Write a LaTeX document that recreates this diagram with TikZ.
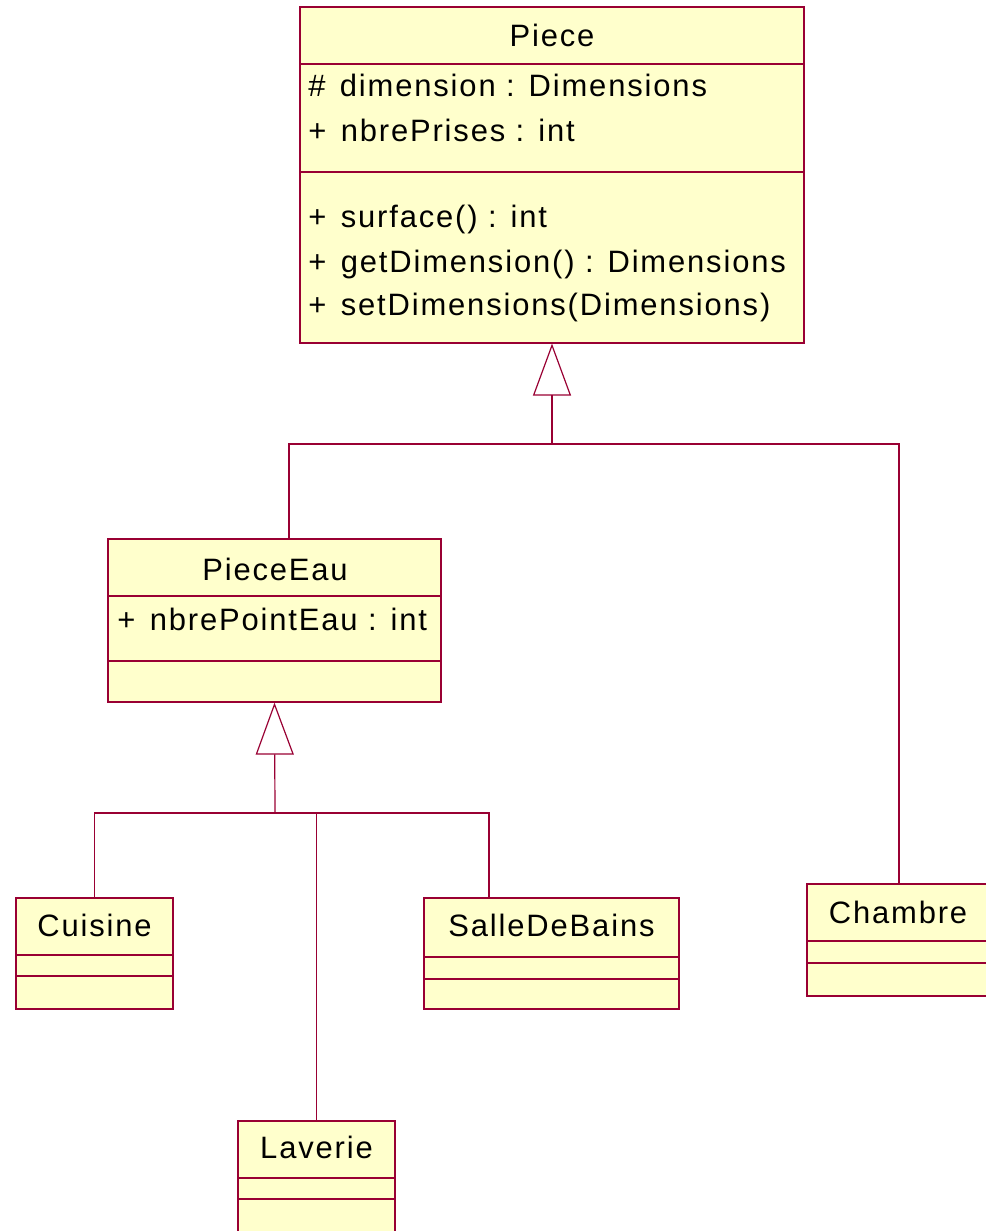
\documentclass[tikz,border=0pt]{standalone}
\usepackage{fontspec}
\setmainfont{Liberation Sans}[LetterSpace=6]
\usepackage{tikz}
\usepackage{xcolor}
\usetikzlibrary{shapes,arrows.meta,positioning,fit}

\definecolor{umlred}{RGB}{153,0,51}
\definecolor{umlfill}{RGB}{255,255,204}

\newcommand{\vis}[1]{#1\kern3pt\ }

\tikzset{
  umlline/.style={draw=umlred,line width=0.9pt},
  classbox/.style={umlline,fill=umlfill,inner sep=0pt},
  gen/.style={umlline,-{Triangle[open,length=39pt,width=28.5pt]}},
  member/.style={anchor=base west,inner sep=0pt,font=\fontsize{23.2pt}{27pt}\selectfont},
  cname/.style={anchor=base,inner sep=0pt,font=\fontsize{23.2pt}{27pt}\selectfont}
}

\begin{document}
\begin{tikzpicture}[x=0.75pt,y=-0.75pt]
\useasboundingbox (0,0) rectangle (985,1231);

% classes
\node[classbox,fit={(300,7) (804,343)}] (piece) {};
\draw[umlline] (piece.west |- 0,64) -- (piece.east |- 0,64);
\draw[umlline] (piece.west |- 0,172) -- (piece.east |- 0,172);
\node[cname] (pieceT) at (552,47) {Piece};
\node[member] (pieceA1) at (308,97) {\vis{\#}dimension : Dimensions};
\node[member] (pieceA2) at (308,141) {\vis{+}nbrePrises : int};
\node[member] (pieceM1) at (308,227) {\vis{+}surface() : int};
\node[member] (pieceM2) at (308,272) {\vis{+}getDimension() : Dimensions};
\node[member] (pieceM3) at (308,315) {\vis{+}setDimensions(Dimensions)};

\node[classbox,fit={(108,539) (441,702)}] (pieceeau) {};
\draw[umlline] (pieceeau.west |- 0,596) -- (pieceeau.east |- 0,596);
\draw[umlline] (pieceeau.west |- 0,661) -- (pieceeau.east |- 0,661);
\node[cname] (pieceeauT) at (275,580) {PieceEau};
\node[member] (pieceeauA1) at (117,630) {\vis{+}nbrePointEau : int};

\node[classbox,fit={(16,898) (173,1009)}] (cuisine) {};
\draw[umlline] (cuisine.west |- 0,955) -- (cuisine.east |- 0,955);
\draw[umlline] (cuisine.west |- 0,976) -- (cuisine.east |- 0,976);
\node[cname] (cuisineT) at (cuisine.north |- 0,936) {Cuisine};

\node[classbox,fit={(424,898) (679,1009)}] (salle) {};
\draw[umlline] (salle.west |- 0,957) -- (salle.east |- 0,957);
\draw[umlline] (salle.west |- 0,979) -- (salle.east |- 0,979);
\node[cname] (salleT) at (salle.north |- 0,936) {SalleDeBains};

\node[classbox,fit={(807,884) (990,996)}] (chambre) {};
\draw[umlline] (chambre.west |- 0,941) -- (chambre.east |- 0,941);
\draw[umlline] (chambre.west |- 0,963) -- (chambre.east |- 0,963);
\node[cname] (chambreT) at (898,923) {Chambre};

\node[classbox,fit={(238,1121) (395,1232)}] (laverie) {};
\draw[umlline] (laverie.west |- 0,1178) -- (laverie.east |- 0,1178);
\draw[umlline] (laverie.west |- 0,1199) -- (laverie.east |- 0,1199);
\node[cname] (laverieT) at (laverie.north |- 0,1158) {Laverie};

% inheritance
\coordinate (busPiece) at (552,444);
\coordinate (busEau) at (275,813);
\draw[gen] (busPiece) -- (piece.south);
\draw[umlline] (pieceeau.north -| 289,0) |- (busPiece);
\draw[umlline] (chambre.north -| 899,0) |- (busPiece);
\draw[gen] (busEau) -- (pieceeau.south);
\draw[umlline] (cuisine.north) |- (busEau);
\draw[umlline] (laverie.north) |- (busEau);
\draw[umlline] (salle.north -| 489,0) |- (busEau);
\end{tikzpicture}
\end{document}
